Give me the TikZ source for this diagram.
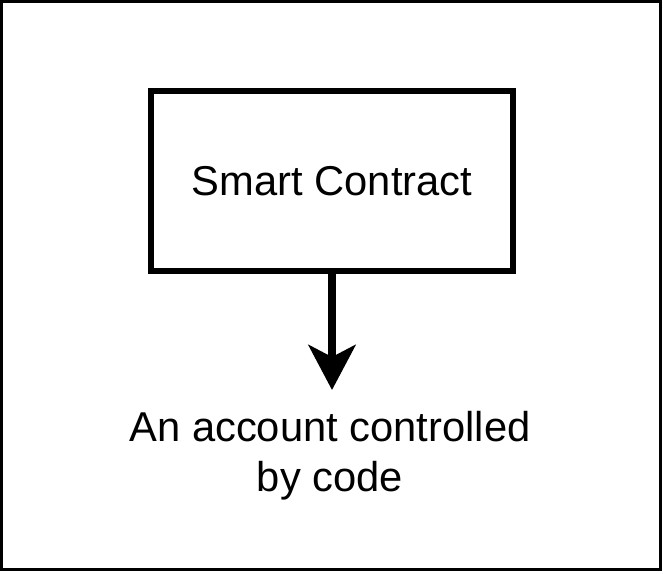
\documentclass[tikz,border=0pt]{standalone}
\usepackage{fontspec}
\setmainfont{Liberation Sans}
\usetikzlibrary{arrows.meta}
\begin{document}
\begin{tikzpicture}[x=1pt,y=-1pt,
  lbl/.style={font=\fontsize{41.7}{50}\selectfont, align=center, inner sep=0pt},
  boxstyle/.style={draw, line width=6pt, minimum width=362pt, minimum height=180pt, inner sep=0pt, font=\fontsize{41.7}{50}\selectfont},
  conn/.style={line width=8pt, -{Stealth[length=45pt,width=47pt,inset=12pt]}}]
\useasboundingbox (0,0) rectangle (663,573);
\draw[line width=3pt] (1.5,1.5) rectangle (660.5,569.5);
\node[boxstyle] (sc) at (332,181) {Smart Contract};
\coordinate (tip) at (332,390);
\node[lbl] (desc) at (330,456) {An account controlled\\by code};
\draw[conn] (sc.south) -- (tip);
\end{tikzpicture}
\end{document}
